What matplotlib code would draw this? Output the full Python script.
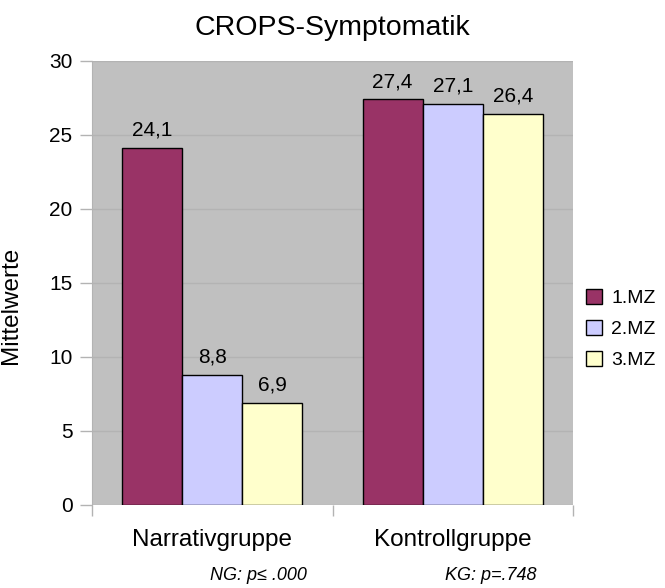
import matplotlib
matplotlib.use("Agg")
import matplotlib.pyplot as plt
import numpy as np

plt.rcParams["font.family"] = ["Liberation Sans", "DejaVu Sans"]

groups = ["Narrativgruppe", "Kontrollgruppe"]
series = ["1.MZ", "2.MZ", "3.MZ"]
values_mz1 = [24.1, 27.4]
values_mz2 = [8.8, 27.1]
values_mz3 = [6.9, 26.4]
colors = ["#993366", "#ccccff", "#ffffcc"]
notes = ["NG: p≤ .000", "KG: p=.748"]

W, H = 665, 588
fig = plt.figure(figsize=(W / 100, H / 100), dpi=100)
ax = fig.add_axes([92 / W, 1 - 505 / H, 481 / W, 444 / H])
ax.set_facecolor("#c0c0c0")

x = np.arange(len(groups))
width = 0.25
for i, (vals, col, name) in enumerate(zip([values_mz1, values_mz2, values_mz3], colors, series)):
    bars = ax.bar(x + (i - 1) * width, vals, width, color=col, edgecolor="black",
                  linewidth=1, label=name, zorder=3)
    for b, v in zip(bars, vals):
        ax.annotate(f"{v:.1f}".replace(".", ","), (b.get_x() + b.get_width() / 2, v),
                    xytext=(0, 6), textcoords="offset points", ha="center", va="bottom",
                    fontsize=15)

ax.set_xlim(-0.5, 1.5)
ax.set_ylim(0, 30)
ax.set_yticks(range(0, 31, 5))
ax.yaxis.grid(True, color="#b3b3b3", linewidth=1, zorder=0)
ax.set_axisbelow(True)

ax.set_xticks(x)
ax.set_xticklabels(groups, fontsize=17.5)
ax.set_xticks([-0.5, 0.5, 1.5], minor=True)
ax.tick_params(axis="x", which="major", length=0, pad=17)
ax.tick_params(axis="x", which="minor", length=8, color="#b3b3b3", width=1)
ax.tick_params(axis="y", length=9, color="#b3b3b3", width=1, labelsize=15, pad=5)

for s in ["top", "right", "bottom"]:
    ax.spines[s].set_visible(False)
ax.spines["left"].set_color("#b3b3b3")

ax.set_ylabel("Mittelwerte", fontsize=17.5)
ax.yaxis.set_label_coords(-(92 - 22) / 481, (505 - 305) / 444)

fig.text(0.5, 1 - 35 / H, "CROPS-Symptomatik", ha="center", va="baseline", fontsize=20.5)

fig.text(258 / W, 1 - 575 / H, notes[0], ha="center", va="center", fontsize=13, style="italic")
fig.text(491 / W, 1 - 575 / H, notes[1], ha="center", va="center", fontsize=13, style="italic")

fig.legend(loc="center left", bbox_to_anchor=(586 / W, 1 - 329 / H), frameon=False,
           fontsize=14, handlelength=0.8, handleheight=0.8, handletextpad=0.5,
           labelspacing=0.65, borderpad=0, borderaxespad=0)

fig.savefig("out.png", dpi=100)
